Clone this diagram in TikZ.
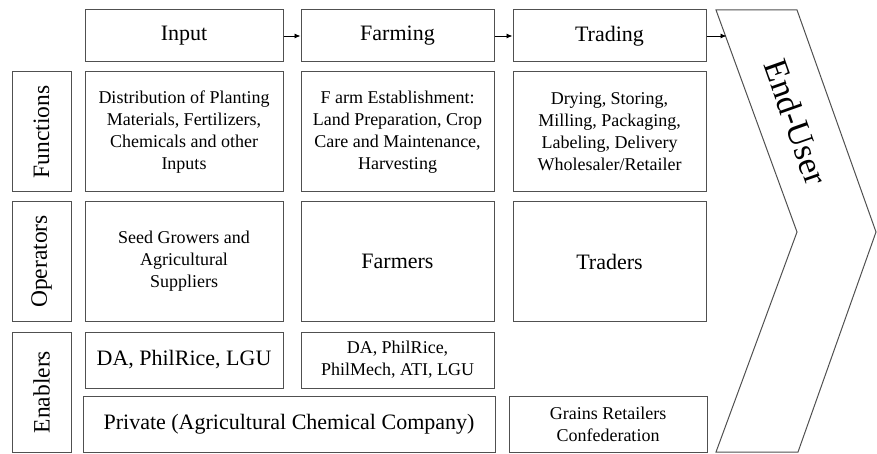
\documentclass[tikz,border=0pt]{standalone}
\usepackage{fontspec}
\setmainfont{Liberation Serif}
\usetikzlibrary{arrows.meta}
\definecolor{edge}{HTML}{505050}
\tikzset{
  box/.style={draw=edge, line width=1pt, rectangle, inner sep=0pt, align=center, text=black},
  big/.style={font=\fontsize{22}{26}\selectfont},
  rowlabel/.style={font=\fontsize{23.5}{28}\selectfont, rotate=90},
  small/.style={font=\fontsize{18}{22}\selectfont},
  flow/.style={draw=black, line width=0.9pt, -{Latex[length=6pt,width=5pt]}},
}
\begin{document}
\begin{tikzpicture}[x=1pt,y=-1pt]
\useasboundingbox (0,0) rectangle (877,454);

% stage headers
\node[box,big,minimum width=198pt,minimum height=52pt] (input) at (184,36) {Input};
\node[box,big,minimum width=193pt,minimum height=52pt] (farming) at (397.5,36) {Farming};
\node[box,big,minimum width=193pt,minimum height=52pt] (trading) at (609.5,36) {Trading};

% row labels
\node[box,minimum width=59pt,minimum height=120pt] (lfun) at (41.5,132) {};
\node[rowlabel] (tfun) at (lfun.center) {Functions};
\node[box,minimum width=59pt,minimum height=119pt] (lop) at (41.5,261.5) {};
\node[rowlabel] (top) at (lop.center) {Operators};
\node[box,minimum width=59pt,minimum height=120pt] (len) at (41.5,392) {};
\node[rowlabel] (ten) at (len.center) {Enablers};

% functions
\node[box,small,minimum width=198pt,minimum height=120pt] (fin) at (184,132)
  {Distribution of Planting\\Materials, Fertilizers,\\Chemicals and other\\Inputs};
\node[box,small,minimum width=193pt,minimum height=120pt] (ffa) at (397.5,132)
  {F arm Establishment:\\Land Preparation, Crop\\Care and Maintenance,\\Harvesting};
\node[box,small,minimum width=193pt,minimum height=120pt] (ftr) at (609.5,132)
  {Drying, Storing,\\Milling, Packaging,\\Labeling, Delivery\\Wholesaler/Retailer};

% operators
\node[box,small,minimum width=198pt,minimum height=119pt] (oin) at (184,261.5)
  {Seed Growers and\\Agricultural\\Suppliers};
\node[box,big,minimum width=193pt,minimum height=119pt] (ofa) at (397.5,261.5) {Farmers};
\node[box,big,minimum width=193pt,minimum height=119pt] (otr) at (609.5,261.5) {Traders};

% enablers
\node[box,big,minimum width=198pt,minimum height=56pt] (ein) at (184,360) {DA, PhilRice, LGU};
\node[box,small,minimum width=193pt,minimum height=56pt] (efa) at (397.5,360)
  {DA, PhilRice,\\PhilMech, ATI, LGU};
\node[box,big,minimum width=412pt,minimum height=56pt] (epr) at (289,424)
  {Private (Agricultural Chemical Company)};
\node[box,small,minimum width=198pt,minimum height=56pt] (egr) at (608,424)
  {Grains Retailers\\Confederation};

% end-user chevron
\draw[draw=edge, line width=1pt]
  (716,10) -- (797,10) -- (876,232) -- (798,452) -- (716,452) -- (797,232) -- cycle;
\coordinate (chev) at (726.5,36);
\node[font=\fontsize{34}{40}\selectfont, rotate=-70.5] (enduser) at (796,122) {End-User};

% flow arrows
\draw[flow] (input.east) -- (farming.west);
\draw[flow] (farming.east) -- (trading.west);
\draw[flow] (trading.east) -- (chev);
\end{tikzpicture}
\end{document}
